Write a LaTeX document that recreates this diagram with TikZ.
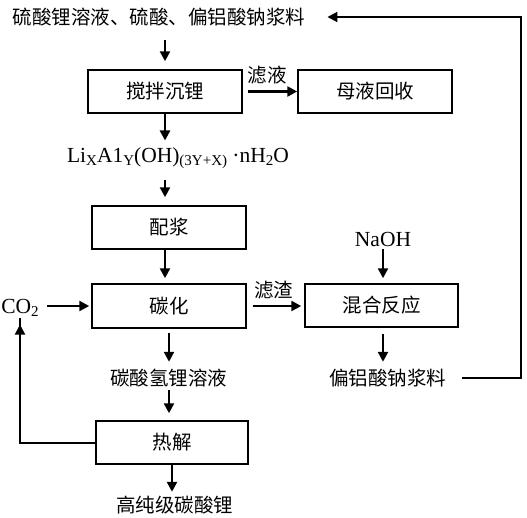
\documentclass[tikz,border=0pt]{standalone}
\usepackage{fontspec}
\setmainfont{Liberation Serif}
\newfontfamily\zhfont{Noto Sans CJK SC}
\usepackage{tikz}
\usetikzlibrary{arrows.meta}
\newcommand{\zh}{\zhfont\fontsize{19.5}{20}\selectfont}
\newcommand{\lat}{\fontsize{21.5}{22}\selectfont}
\newcommand{\low}[1]{\raisebox{-2.5pt}{\fontsize{15}{15}\selectfont #1}}

\begin{document}
\begin{tikzpicture}[->,>={Triangle[length=10pt,width=10pt]},x=1pt,y=-1pt,
                    line width=2.4pt]
\tikzstyle{proc}=[draw,line width=1.5pt,minimum width=154pt,minimum height=43pt,inner sep=0pt,font=\zh]
\tikzstyle{item}=[inner sep=0pt,font=\zh]
\tikzstyle{chem}=[inner sep=0pt,font=\lat]
\useasboundingbox (0,0) rectangle (527,517);
% texts
\node[item] (top) at (159,17) {硫酸锂溶液、硫酸、偏铝酸钠浆料};
\node[chem] (form) at (178,158) {Li\low{X}A1\low{Y}(OH)\low{(3Y+X)} ·nH\low{2}O};
\node[chem] (naoh) at (383,239) {NaOH};
\node[chem] (co2) at (20,308) {CO\low{2}};
\node[item] (bicarb) at (168.5,378) {碳酸氢锂溶液};
\node[item] (slurry) at (387.5,378) {偏铝酸钠浆料};
\node[item] (prod) at (174.5,505) {高纯级碳酸锂};
% boxes
\node[proc] (stir) at (165,91.5) {搅拌沉锂};
\node[proc] (mother) at (375,91.5) {母液回收};
\node[proc] (pei) at (169,227.5) {配浆};
\node[proc,minimum height=44pt] (tan) at (169,306) {碳化};
\node[proc,minimum width=153pt] (mix) at (381.5,305.5) {混合反应};
\node[proc,minimum width=152pt] (heat) at (172,442.5) {热解};
\coordinate (corner) at (521,378);
% arrows
\draw[shorten <=13pt,shorten >=8pt] (top.south -| stir.north) -- (stir.north);
\draw[shorten >=6pt] (stir.south) -- (stir.south |- form.north);
\draw[shorten <=5pt] (stir.east) -- (mother.west)
      node[midway,above=6pt,item,xshift=-3pt] {滤液};
\draw[shorten <=10pt,shorten >=8pt] (form.south -| stir) -- (pei.north -| stir);
\draw[shorten >=5pt] (pei.south -| stir) -- (tan.north -| stir);
\draw[shorten <=6pt,shorten >=3pt] (tan.east) -- (tan.east -| mix.west)
      node[midway,above=6pt,item,xshift=-2pt] {滤渣};
\draw[shorten <=7pt,shorten >=2pt] (co2.east |- tan.west) -- (tan.west);
\draw[shorten <=4pt,shorten >=6pt] (tan.south) -- (tan.south |- bicarb.north);
\draw[shorten <=2pt,shorten >=7pt] (bicarb.south -| tan) -- (heat.north -| tan);
\draw[shorten >=3pt] (heat.south) -- (heat.south |- prod.north);
\draw[-,line width=2pt] (heat.west) -| (co2.south);
\draw[line width=2pt,shorten >=7pt] (heat.west -| co2.south) -- (co2.south);
\draw[shorten <=2pt,shorten >=5pt] (naoh.south) -- (naoh.south |- mix.north);
\draw[shorten <=6pt,shorten >=6pt] (mix.south -| naoh) -- (slurry.north -| naoh);
\draw[line width=2pt,shorten <=15pt,shorten >=21pt] (slurry.east) -- (corner) |- (top.east);
\end{tikzpicture}
\end{document}
